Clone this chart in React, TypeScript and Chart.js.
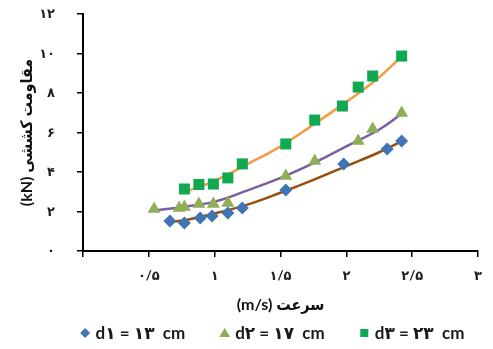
import React, { useEffect, useRef } from 'react';
import { Chart, registerables } from 'chart.js';

Chart.register(...registerables);

// Tick labels (Persian digits)
const xTickLabels = ['', '۰/۵', '۱', '۱/۵', '۲', '۲/۵', '۳'];
const yTickLabels = ['۰', '۲', '۴', '۶', '۸', '۱۰', '۱۲'];

// Axis titles
const xTitle = '(m/s) سرعت';
const yTitle = '(kN) مقاومت کششی';

// Legend labels
const legendLabels = ['d۱ = ۱۳  cm', 'd۲ = ۱۷  cm', 'd۳ = ۲۳  cm'];

// Series d1 (diamonds)
const d1X = [0.66, 0.77, 0.89, 0.98, 1.1, 1.21, 1.54, 1.98, 2.31, 2.42];
const d1Y = [1.52, 1.42, 1.67, 1.77, 1.92, 2.18, 3.09, 4.41, 5.16, 5.57];

// Series d2 (triangles)
const d2X = [0.54, 0.73, 0.77, 0.88, 0.99, 1.1, 1.54, 1.76, 2.09, 2.2, 2.42];
const d2Y = [2.13, 2.18, 2.23, 2.38, 2.38, 2.43, 3.8, 4.56, 5.57, 6.18, 6.99];

// Series d3 (squares)
const d3X = [0.77, 0.88, 0.99, 1.1, 1.21, 1.54, 1.76, 1.97, 2.09, 2.2, 2.42];
const d3Y = [3.14, 3.37, 3.39, 3.7, 4.41, 5.42, 6.63, 7.34, 8.3, 8.86, 9.87];

// Trend lines
const t1X = [0.66, 0.8, 1.0, 1.25, 1.5, 1.75, 2.0, 2.25, 2.42];
const t1Y = [1.45, 1.6, 1.9, 2.35, 2.95, 3.6, 4.3, 5.0, 5.55];
const t2X = [0.54, 0.75, 1.0, 1.25, 1.5, 1.75, 2.0, 2.25, 2.42];
const t2Y = [2.05, 2.22, 2.5, 3.07, 3.7, 4.45, 5.3, 6.15, 6.95];
const t3X = [0.78, 1.0, 1.25, 1.5, 1.75, 2.0, 2.25, 2.42];
const t3Y = [3.0, 3.55, 4.4, 5.3, 6.4, 7.55, 8.8, 9.85];

const pts = (xs: number[], ys: number[]) => xs.map((x, i) => ({ x, y: ys[i] }));

const C_D1 = '#3F74B5';
const C_D2 = '#8FAE55';
const C_D3 = '#10A850';
const C_T1 = '#9A4E0A';
const C_T2 = '#7A5EA6';
const C_T3 = '#F59A45';

const FONT = 'Lato, "DejaVu Sans", sans-serif';
const TITLE_FONT = 'Lato, "DejaVu Sans Condensed", "DejaVu Sans", sans-serif';

const legendPlugin = {
  id: 'customLegend',
  afterDraw(chart: any) {
    const ctx = chart.ctx as CanvasRenderingContext2D;
    ctx.save();
    ctx.font = 'bold 17px ' + FONT;
    ctx.textBaseline = 'middle';
    ctx.textAlign = 'left';
    ctx.fillStyle = '#1a1a1a';
    const y = 333;
    const markerW = 11;
    const markerGap = 5;
    const itemGap = 34;
    const widths = legendLabels.map((t) => ctx.measureText(t).width);
    const total = widths.reduce((a, w) => a + markerW + markerGap + w, 0) + itemGap * (legendLabels.length - 1);
    let x = 272 - total / 2;
    const colors = [C_D1, C_D2, C_D3];
    legendLabels.forEach((t, i) => {
      const cx = x + markerW / 2;
      ctx.fillStyle = colors[i];
      ctx.beginPath();
      if (i === 0) {
        ctx.moveTo(cx, y - 5);
        ctx.lineTo(cx + 5, y);
        ctx.lineTo(cx, y + 5);
        ctx.lineTo(cx - 5, y);
      } else if (i === 1) {
        ctx.moveTo(cx, y - 5);
        ctx.lineTo(cx + 5.5, y + 4);
        ctx.lineTo(cx - 5.5, y + 4);
      } else {
        ctx.rect(cx - 4, y - 4, 8, 8);
      }
      ctx.closePath();
      ctx.fill();
      ctx.fillStyle = '#1a1a1a';
      ctx.fillText(t, x + markerW + markerGap, y + 1);
      x += markerW + markerGap + widths[i] + itemGap;
    });
    ctx.restore();
  },
};

export default function App() {
  const ref = useRef<HTMLCanvasElement | null>(null);

  useEffect(() => {
    if (!ref.current) return;
    const chart = new Chart(ref.current, {
      type: 'scatter',
      data: {
        datasets: [
          {
            label: legendLabels[0],
            data: pts(d1X, d1Y),
            pointStyle: 'rectRot',
            pointRadius: 6.5,
            backgroundColor: C_D1,
            borderColor: C_D1,
            borderWidth: 0,
            order: 0,
          },
          {
            label: legendLabels[1],
            data: pts(d2X, d2Y),
            pointStyle: 'triangle',
            pointRadius: 7.5,
            backgroundColor: C_D2,
            borderColor: C_D2,
            borderWidth: 0,
            order: 0,
          },
          {
            label: legendLabels[2],
            data: pts(d3X, d3Y),
            pointStyle: 'rect',
            pointRadius: 7.8,
            backgroundColor: C_D3,
            borderColor: C_D3,
            borderWidth: 0,
            order: 0,
          },
          {
            label: 't1',
            data: pts(t1X, t1Y),
            showLine: true,
            pointRadius: 0,
            borderColor: C_T1,
            borderWidth: 2.5,
            tension: 0.4,
            order: 1,
          },
          {
            label: 't2',
            data: pts(t2X, t2Y),
            showLine: true,
            pointRadius: 0,
            borderColor: C_T2,
            borderWidth: 2.5,
            tension: 0.4,
            order: 1,
          },
          {
            label: 't3',
            data: pts(t3X, t3Y),
            showLine: true,
            pointRadius: 0,
            borderColor: C_T3,
            borderWidth: 2.5,
            tension: 0.4,
            order: 1,
          },
        ],
      },
      options: {
        animation: false,
        responsive: true,
        maintainAspectRatio: false,
        layout: { padding: { top: 14, right: 10, bottom: 30, left: 0 } },
        plugins: {
          legend: { display: false },
          tooltip: { enabled: false },
        },
        scales: {
          x: {
            type: 'linear',
            min: 0,
            max: 3,
            ticks: {
              stepSize: 0.5,
              autoSkip: false,
              maxRotation: 0,
              color: '#222',
              padding: 11,
              font: { size: 13, weight: 'bold', family: FONT },
              callback: (_v: any, i: number) => xTickLabels[i],
            },
            grid: { drawOnChartArea: false, drawTicks: true, tickLength: 6, color: '#000', lineWidth: 1.5 },
            border: { display: true, color: '#000', width: 2 },
            title: {
              display: true,
              text: xTitle,
              color: '#111',
              font: { size: 16, weight: 'bold', family: TITLE_FONT },
              padding: { top: 4, bottom: 5 },
            },
            afterFit: (s: any) => {
              s.height = 68;
            },
          },
          y: {
            type: 'linear',
            min: 0,
            max: 12,
            ticks: {
              stepSize: 2,
              autoSkip: false,
              color: '#222',
              padding: 22,
              font: { size: 13, weight: 'bold', family: FONT },
              callback: (_v: any, i: number) => yTickLabels[i],
            },
            grid: { drawOnChartArea: false, drawTicks: true, tickLength: 6, color: '#000', lineWidth: 1.5 },
            border: { display: true, color: '#000', width: 2 },
            title: {
              display: true,
              text: yTitle,
              color: '#111',
              font: { size: 16, weight: 'bold', family: TITLE_FONT },
              padding: { top: 17, bottom: 0 },
            },
            afterFit: (s: any) => {
              s.width = 83;
              s.paddingTop = 0;
              s.paddingBottom = 0;
            },
          },
        },
      },
      plugins: [legendPlugin],
    });
    return () => chart.destroy();
  }, []);

  return (
    <div style={{ position: 'fixed', left: 0, top: 0, width: 493, height: 349, background: '#fff' }}>
      <canvas ref={ref} />
    </div>
  );
}
